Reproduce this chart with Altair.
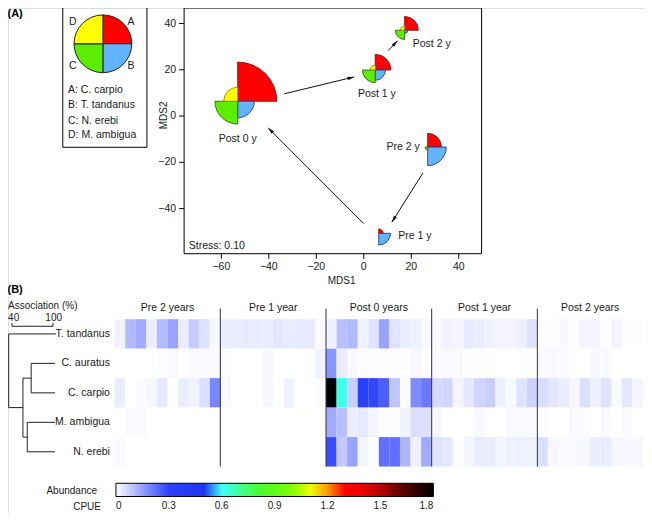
import math
import altair as alt
import pandas as pd

# ---------------- layout (reference pixels -> local chart pixels) ----------------
W, H = 636, 505
SX, SY = 636 / 650, 504 / 521


def LX(px):
    return (px - 2) * SX


def LY(py):
    return (py - 1) * SY


FONT = "Liberation Sans"
TXT = "#1a1a1a"

# ---------------- panel A data ----------------
sites = ["Pre 2 y", "Pre 1 y", "Post 0 y", "Post 1 y", "Post 2 y"]
mds1 = [26.9, 6.3, -53.1, 4.8, 17.2]
mds2 = [-13.4, -50.7, 6.4, 19.9, 37.1]
# relative sector size per species (A..D)
sector_carpio = [14.0, 4.5, 40.0, 16.0, 14.0]      # A
sector_tandanus = [19.0, 12.0, 17.0, 10.5, 3.3]    # B
sector_erebi = [2.7, 0.0, 23.3, 13.0, 9.5]         # C
sector_ambigua = [0.0, 0.0, 14.3, 5.0, 4.5]        # D
label_x = [23.6, 14.5, -53.1, 5.5, 28.6]
label_y = [-13.4, -51.9, -10.0, 9.5, 31.1]
label_align = ["right", "left", "center", "center", "center"]

arrow_x0 = [-33.5, 10.3, 24.9, 0.0]
arrow_y0 = [9.6, 28.3, -24.6, -46.5]
arrow_x1 = [-4.1, 14.2, 11.8, -40.3]
arrow_y1 = [16.9, 32.5, -45.9, -5.1]

mds_xdom = [-75.66, 49.6]
mds_ydom = [-59.5, 46.7]
mds_xticks = [-60, -40, -20, 0, 20, 40]
mds_xtick_labels = ["\u221260", "\u221240", "\u221220", "0", "20", "40"]
mds_yticks = [-40, -20, 0, 20, 40]
mds_ytick_labels = ["\u221240", "\u221220", "0", "20", "40"]
stress_text = "Stress: 0.10"

quad_keys = ["A", "B", "C", "D"]
quad_species = ["C. carpio", "T. tandanus", "N. erebi", "M. ambigua"]
quad_fill = ["#ff0000", "#63b4ff", "#5ded00", "#ffff00"]
quad_stroke = ["#8b1010", "#1c3f8c", "#2e6b00", "#8b8b00"]

# ---------------- panel B data ----------------
species = ["T. tandanus", "C. auratus", "C. carpio", "M. ambigua", "N. erebi"]
periods = ["Pre 2 years", "Pre 1 year", "Post 0 years", "Post 1 year", "Post 2 years"]
cpue_tandanus = [
    0.02, 0.11, 0.13, 0.03, 0.11, 0.145, 0.03, 0.08, 0.045, 0.01,
    0.027, 0.03, 0.033, 0.03, 0.03, 0.038, 0.033, 0.035, 0.033, 0.006,
    0.024, 0.10, 0.11, 0.02, 0.044, 0.145, 0.044, 0.03, 0.024, 0.01,
    0.01, 0.02, 0.015, 0.033, 0.027, 0.02, 0.015, 0.015, 0.024, 0.044,
    0.003, 0.003, 0.01, 0.005, 0.015, 0.015, 0.003, 0.017, 0.003, 0.003,
]
cpue_auratus = [
    0.0, 0.0, 0.0, 0.0, 0.003, 0.008, 0.003, 0.008, 0.008, 0.006,
    0.004, 0.0, 0.0, 0.0, 0.01, 0.0, 0.0, 0.0, 0.003, 0.02,
    0.168, 0.03, 0.01, 0.004, 0.003, 0.003, 0.003, 0.005, 0.012, 0.003,
    0.008, 0.008, 0.006, 0.002, 0.002, 0.002, 0.0, 0.0, 0.003, 0.002,
    0.006, 0.01, 0.006, 0.0, 0.0, 0.01, 0.01, 0.0, 0.0, 0.0,
]
cpue_carpio = [
    0.03, 0.0, 0.006, 0.012, 0.035, 0.0, 0.03, 0.021, 0.05, 0.19,
    0.006, 0.0, 0.0, 0.0, 0.012, 0.0, 0.021, 0.0, 0.0, 0.006,
    1.8, 0.62, 0.077, 0.30, 0.29, 0.255, 0.089, 0.005, 0.18, 0.21,
    0.06, 0.066, 0.015, 0.038, 0.066, 0.077, 0.024, 0.01, 0.044, 0.07,
    0.055, 0.038, 0.03, 0.012, 0.049, 0.024, 0.044, 0.008, 0.038, 0.015,
]
cpue_ambigua = [
    0.0, 0.008, 0.008, 0.0, 0.0, 0.0, 0.0, 0.0, 0.0, 0.0,
    0.0, 0.0, 0.0, 0.0, 0.0, 0.0, 0.0, 0.0, 0.0, 0.0,
    0.134, 0.10, 0.027, 0.035, 0.015, 0.003, 0.003, 0.02, 0.05, 0.05,
    0.012, 0.0, 0.0, 0.0, 0.008, 0.0, 0.0, 0.008, 0.01, 0.008,
    0.004, 0.0, 0.0, 0.006, 0.006, 0.0, 0.006, 0.0, 0.006, 0.0,
]
cpue_erebi = [
    0.008, 0.0, 0.0, 0.0, 0.0, 0.0, 0.0, 0.0, 0.0, 0.0,
    0.0, 0.0, 0.0, 0.0, 0.0, 0.0, 0.0, 0.0, 0.0, 0.0,
    0.28, 0.085, 0.145, 0.015, 0.003, 0.225, 0.225, 0.115, 0.021, 0.134,
    0.044, 0.038, 0.005, 0.015, 0.03, 0.03, 0.015, 0.021, 0.024, 0.021,
    0.049, 0.012, 0.008, 0.008, 0.012, 0.03, 0.03, 0.012, 0.012, 0.012,
]
cpue_ticks = [0, 0.3, 0.6, 0.9, 1.2, 1.5, 1.8]
cmap_dom = [0, 0.3, 0.5, 0.6, 0.78, 0.98, 1.12, 1.2, 1.3, 1.45, 1.6, 1.8]
cmap_rng = ["#ffffff", "#2a40ff", "#1f35ee", "#40ffff", "#40ff40", "#70ff00",
            "#ffff00", "#ff9900", "#ff0000", "#dd0000", "#6a0000", "#000000"]

# dendrogram segments (association %, row position)
dend_x = [35.3, 68.1, 68.1, 62.4, 62.4, 68.1, 62.4, 56.1, 35.3, 56.1, 56.1, 35.3]
dend_x2 = [104.3, 102.9, 102.9, 102.9, 102.9, 68.1, 62.4, 56.1, 35.3, 68.1, 62.4, 56.1]
dend_y = [0.5, 1.5, 2.5, 3.5, 4.5, 1.5, 3.5, 2.0, 0.5, 2.0, 4.0, 3.0]
dend_y2 = [0.5, 1.5, 2.5, 3.5, 4.5, 2.5, 4.5, 4.0, 3.0, 2.0, 4.0, 3.0]

# ---------------- scales ----------------
XS = alt.Scale(domain=mds_xdom, range=[LX(182), LX(486)], nice=False, zero=False)
YS = alt.Scale(domain=mds_ydom, range=[LY(255), LY(1)], nice=False, zero=False)
PXS = alt.Scale(domain=[0, 652], range=[LX(0), LX(652)], nice=False, zero=False)
PYS = alt.Scale(domain=[0, 521], range=[LY(0), LY(521)], nice=False, zero=False)
HXS = alt.Scale(domain=[0, 50], range=[LX(111), LX(651)], nice=False, zero=False)
HYS = alt.Scale(domain=[0, 5], range=[LY(322.7), LY(475)], nice=False, zero=False)
DXS = alt.Scale(domain=[40, 100], range=[LX(6), LX(48)], nice=False, zero=False)
RS = alt.Scale(type="linear", domain=[0, 40], range=[0, 40 * SX], zero=True)
TS = alt.Scale(domain=[0, 4], range=[0, 2 * math.pi], zero=True)
FS = alt.Scale(domain=quad_keys, range=quad_fill)
STS = alt.Scale(domain=quad_keys, range=quad_stroke)

kx = (LX(486) - LX(182)) / (mds_xdom[1] - mds_xdom[0])
ky = (LY(255) - LY(1)) / (mds_ydom[1] - mds_ydom[0])


def mx(field="x"):
    return alt.X(f"{field}:Q", scale=XS, axis=None)


def my(field="y"):
    return alt.Y(f"{field}:Q", scale=YS, axis=None)


# ---------------- panel A: MDS ----------------
frame_df = pd.DataFrame({"x": [mds_xdom[0]], "x2": [mds_xdom[1]],
                         "y": [mds_ydom[0]], "y2": [mds_ydom[1]]})
frame = alt.Chart(frame_df).mark_rect(fillOpacity=0, stroke="black", strokeWidth=1).encode(
    x=mx(), x2="x2:Q", y=my(), y2="y2:Q")

# axis ticks and labels (tick length 5 px, drawn outward)
TL = 5.0
xt_df = pd.DataFrame({"x": mds_xticks, "y": [mds_ydom[0]] * len(mds_xticks),
                      "y2": [mds_ydom[0] - TL / ky] * len(mds_xticks),
                      "ly": [mds_ydom[0] - 13.0 / ky] * len(mds_xticks),
                      "t": mds_xtick_labels})
yt_df = pd.DataFrame({"y": mds_yticks, "x": [mds_xdom[0]] * len(mds_yticks),
                      "x2": [mds_xdom[0] - TL / kx] * len(mds_yticks),
                      "lx": [mds_xdom[0] - 8.0 / kx] * len(mds_yticks),
                      "t": mds_ytick_labels})
xticks = alt.Chart(xt_df).mark_rule(color="black", strokeWidth=1).encode(
    x=mx(), y=my(), y2="y2:Q")
xlabels = alt.Chart(xt_df).mark_text(align="center", baseline="middle", fontSize=10.5,
                                     font=FONT, color=TXT).encode(
    x=mx(), y=my("ly"), text="t:N")
yticks = alt.Chart(yt_df).mark_rule(color="black", strokeWidth=1).encode(
    x=mx(), x2="x2:Q", y=my())
ylabels = alt.Chart(yt_df).mark_text(align="right", baseline="middle", fontSize=10.5,
                                     font=FONT, color=TXT).encode(
    x=mx("lx"), y=my(), text="t:N")

arr_df = pd.DataFrame({"x": arrow_x0, "y": arrow_y0, "x2": arrow_x1, "y2": arrow_y1})
arrows = alt.Chart(arr_df).mark_rule(color="#111", strokeWidth=1).encode(
    x=mx(), x2="x2:Q", y=my(), y2="y2:Q")

heads = []
for x0, y0, x1, y1 in zip(arrow_x0, arrow_y0, arrow_x1, arrow_y1):
    dxs, dys = (x1 - x0) * kx, (y1 - y0) * ky
    n = math.hypot(dxs, dys)
    ang = math.degrees(math.atan2(dxs, dys)) % 360
    back = 3.2
    heads.append({"x": x1 - back * dxs / n / kx, "y": y1 - back * dys / n / ky, "ang": ang})
head_df = pd.DataFrame(heads)
ARROW = "M0,-1L0.5,1L-0.5,1Z"
arrow_heads = alt.Chart(head_df).mark_point(shape=ARROW, filled=True, size=48, color="#111",
                                            opacity=1).encode(
    x=mx(), y=my(),
    angle=alt.Angle("ang:Q", scale=alt.Scale(domain=[0, 360], range=[0, 360])))

pie_rows = []
for i, s in enumerate(sites):
    vals = [sector_carpio[i], sector_tandanus[i], sector_erebi[i], sector_ambigua[i]]
    for q, rr in enumerate(vals):
        if rr > 0:
            pie_rows.append({"site": s, "x": mds1[i], "y": mds2[i], "q0": q, "q1": q + 1,
                             "r": rr, "key": quad_keys[q]})
pie_df = pd.DataFrame(pie_rows)
pies = alt.Chart(pie_df).mark_arc(strokeWidth=0.9).encode(
    x=mx(), y=my(),
    theta=alt.Theta("q0:Q", scale=TS, stack=None), theta2="q1:Q",
    radius=alt.Radius("r:Q", scale=RS),
    fill=alt.Fill("key:N", scale=FS, legend=None),
    stroke=alt.Stroke("key:N", scale=STS, legend=None))

lab_df = pd.DataFrame({"site": sites, "x": label_x, "y": label_y, "al": label_align})
site_labels = []
for al in ["left", "center", "right"]:
    site_labels.append(
        alt.Chart(lab_df).transform_filter(alt.datum.al == al)
        .mark_text(align=al, baseline="middle", fontSize=10.5, font=FONT, color=TXT)
        .encode(x=mx(), y=my(), text="site:N"))

stress = alt.Chart(pd.DataFrame({"x": [-73.7], "y": [-56.0], "t": [stress_text]})).mark_text(
    align="left", baseline="middle", fontSize=10.5, font=FONT, color=TXT).encode(
    x=mx(), y=my(), text="t:N")

mds = alt.layer(frame, xticks, xlabels, yticks, ylabels, arrows, arrow_heads, pies,
                *site_labels, stress)

# ---------------- panel A: key box and annotations (reference-pixel scale) ----------------
def px(field="x"):
    return alt.X(f"{field}:Q", scale=PXS, axis=None)


def py(field="y"):
    return alt.Y(f"{field}:Q", scale=PYS, axis=None)


box = alt.Chart(pd.DataFrame({"x": [58], "x2": [144], "y": [0.5], "y2": [145]})).mark_rect(
    fillOpacity=0, stroke="black", strokeWidth=1).encode(x=px(), x2="x2:Q", y=py(), y2="y2:Q")
key_pie_df = pd.DataFrame({"x": [99] * 4, "y": [38] * 4, "q0": [0, 1, 2, 3], "q1": [1, 2, 3, 4],
                           "r": [29.5] * 4, "key": quad_keys})
key_pie = alt.Chart(key_pie_df).mark_arc(strokeWidth=1).encode(
    x=px(), y=py(),
    theta=alt.Theta("q0:Q", scale=TS, stack=None), theta2="q1:Q",
    radius=alt.Radius("r:Q", scale=RS),
    fill=alt.Fill("key:N", scale=FS, legend=None),
    stroke=alt.value("#222"))
key_letters = alt.Chart(pd.DataFrame({"t": ["A", "B", "C", "D"], "x": [127.7, 127.7, 68.3, 68.3],
                                      "y": [15, 60.5, 60.5, 15]})).mark_text(
    align="center", baseline="middle", fontSize=10.5, font=FONT, color=TXT).encode(
    x=px(), y=py(), text="t:N")
key_lines = alt.Chart(pd.DataFrame({
    "t": [f"{k}: {s}" for k, s in zip(quad_keys, quad_species)],
    "x": [63.3] * 4, "y": [86, 101.7, 117.3, 132.7]})).mark_text(
    align="left", baseline="middle", fontSize=10.5, font=FONT, color=TXT).encode(
    x=px(), y=py(), text="t:N")

annot_df = pd.DataFrame({"t": ["Abundance", "CPUE"], "x": [93, 97], "y": [500, 517]})
annot = alt.Chart(annot_df).mark_text(align="right", baseline="middle", fontSize=10,
                                      font=FONT, color=TXT).encode(
    x=px(), y=py(), text="t:N")
panel_df = pd.DataFrame({"t": ["(A)", "(B)"], "x": [1.5, 1.5], "y": [7.5, 293]})
panel_lab = alt.Chart(panel_df).mark_text(align="left", baseline="middle", fontSize=11,
                                          fontWeight="bold", font=FONT, color="black").encode(
    x=px(), y=py(), text="t:N")
mds1_title = alt.Chart(pd.DataFrame({"t": ["MDS1"], "x": [343], "y": [282.7]})).mark_text(
    align="center", baseline="middle", fontSize=10, font=FONT, color=TXT).encode(
    x=px(), y=py(), text="t:N")
mds2_title = alt.Chart(pd.DataFrame({"t": ["MDS2"], "x": [161], "y": [112]})).mark_text(
    align="center", baseline="middle", fontSize=10, font=FONT, color=TXT, angle=270).encode(
    x=px(), y=py(), text="t:N")

page = alt.layer(box, key_pie, key_letters, key_lines, annot, panel_lab, mds1_title, mds2_title)

# ---------------- panel B: heatmap ----------------
all_cpue = [cpue_tandanus, cpue_auratus, cpue_carpio, cpue_ambigua, cpue_erebi]
cells = []
for r, (sp, vals) in enumerate(zip(species, all_cpue)):
    for c, v in enumerate(vals):
        cells.append({"sp": sp, "x": c, "x2": c + 1, "y": r, "y2": r + 1, "v": v})
cell_df = pd.DataFrame(cells)
heat = alt.Chart(cell_df).mark_rect(strokeWidth=0).encode(
    x=alt.X("x:Q", scale=HXS, axis=None), x2="x2:Q",
    y=alt.Y("y:Q", scale=HYS, axis=None), y2="y2:Q",
    color=alt.Color("v:Q", scale=alt.Scale(domain=cmap_dom, range=cmap_rng, interpolate="rgb",
                                           clamp=True),
                    legend=alt.Legend(orient="none", legendX=LX(112.3), legendY=LY(492.3),
                                      direction="horizontal", title=None,
                                      gradientLength=(436.7 - 112.3) * SX,
                                      gradientThickness=13.7 * SY,
                                      gradientStrokeColor="black", gradientStrokeWidth=1,
                                      values=cpue_ticks, labelAlign="center", labelOffset=4,
                                      labelFontSize=10, labelFont=FONT, labelColor=TXT,
                                      labelExpr="datum.value == 0 ? '0' : format(datum.value, '.1f')",
                                      padding=0, offset=0)))

div_df = pd.DataFrame({"x": [10, 20, 30, 40], "y": [-0.36] * 4, "y2": [5.0] * 4})
dividers = alt.Chart(div_df).mark_rule(color="#333", strokeWidth=1).encode(
    x=alt.X("x:Q", scale=HXS, axis=None),
    y=alt.Y("y:Q", scale=HYS, axis=None), y2="y2:Q")
per_df = pd.DataFrame({"t": periods, "x": [5, 15, 25, 35, 45], "y": [-0.394] * 5})
per_lab = alt.Chart(per_df).mark_text(align="center", baseline="middle", fontSize=10.5,
                                      font=FONT, color=TXT).encode(
    x=alt.X("x:Q", scale=HXS, axis=None), y=alt.Y("y:Q", scale=HYS, axis=None), text="t:N")
row_df = pd.DataFrame({"t": species, "x": [-0.45] * 5, "y": [0.5, 1.5, 2.5, 3.5, 4.5]})
row_lab = alt.Chart(row_df).mark_text(align="right", baseline="middle", fontSize=10.5,
                                      font=FONT, color=TXT).encode(
    x=alt.X("x:Q", scale=HXS, axis=None), y=alt.Y("y:Q", scale=HYS, axis=None), text="t:N")
heat_layer = alt.layer(heat, dividers, per_lab, row_lab)

# ---------------- panel B: dendrogram ----------------
dend_df = pd.DataFrame({"x": dend_x, "x2": dend_x2, "y": dend_y, "y2": dend_y2})
dend = alt.Chart(dend_df).mark_rule(color="#222", strokeWidth=1).encode(
    x=alt.X("x:Q", scale=DXS, axis=None), x2="x2:Q",
    y=alt.Y("y:Q", scale=HYS, axis=None), y2="y2:Q")
bar_df = pd.DataFrame({"x": [40, 40, 100], "x2": [100, 40, 100],
                       "y": [0.24, 0.125, 0.125], "y2": [0.24, 0.24, 0.24]})
sbar = alt.Chart(bar_df).mark_rule(color="#222", strokeWidth=1).encode(
    x=alt.X("x:Q", scale=DXS, axis=None), x2="x2:Q",
    y=alt.Y("y:Q", scale=HYS, axis=None), y2="y2:Q")
sbar_lab = alt.Chart(pd.DataFrame({"t": ["40", "100"], "x": [42.5, 101], "y": [-0.03, -0.03]})).mark_text(
    align="center", baseline="middle", fontSize=10, font=FONT, color=TXT).encode(
    x=alt.X("x:Q", scale=DXS, axis=None), y=alt.Y("y:Q", scale=HYS, axis=None), text="t:N")
assoc = alt.Chart(pd.DataFrame({"t": ["Association (%)"], "x": [34.3], "y": [-0.45]})).mark_text(
    align="left", baseline="middle", fontSize=10, font=FONT, color=TXT).encode(
    x=alt.X("x:Q", scale=DXS, axis=None), y=alt.Y("y:Q", scale=HYS, axis=None), text="t:N")
dend_layer = alt.layer(dend, sbar, sbar_lab, assoc)

chart = alt.layer(mds, page, heat_layer, dend_layer).resolve_scale(
    x="independent", y="independent").properties(
    width=W, height=H, padding=0, autosize=alt.AutoSizeParams(type="none")
).configure_view(stroke="transparent").configure(font=FONT)

chart.save("out.html", embed_options={"renderer": "svg", "actions": False})
